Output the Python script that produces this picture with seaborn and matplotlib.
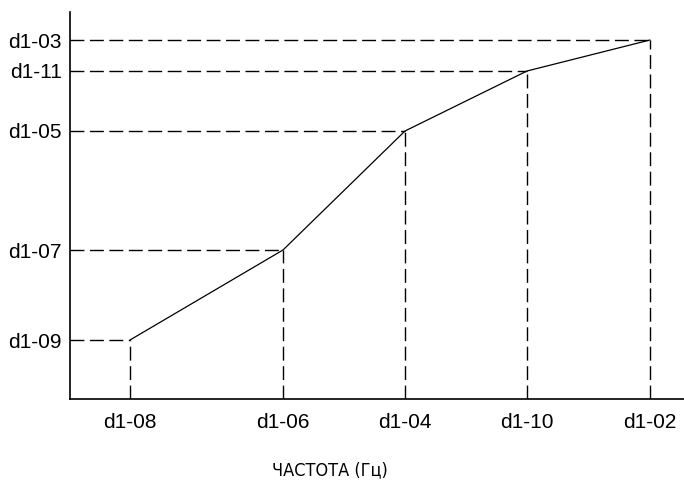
import numpy as np
import pandas as pd
import matplotlib
matplotlib.use("Agg")
import matplotlib.pyplot as plt
import seaborn as sns

# V/f curve break points (arbitrary units)
freq = [0.60, 2.13, 3.35, 4.57, 5.80]
volt = [59, 149, 268, 328, 359]
freq_labels = ["d1-08", "d1-06", "d1-04", "d1-10", "d1-02"]
volt_labels = ["d1-09", "d1-07", "d1-05", "d1-11", "d1-03"]
xlabel = "ЧАСТОТА (Гц)"

sns.set_theme(style="white")
plt.rcParams["font.family"] = ["Liberation Sans", "DejaVu Sans"]

fig = plt.figure(figsize=(6.84, 4.87), dpi=100)
ax = fig.add_axes([70 / 684, 88 / 487, 614 / 684, 387 / 487])

df = pd.DataFrame({"f": freq, "v": volt})
sns.lineplot(data=df, x="f", y="v", ax=ax, color="black", linewidth=0.9,
             sort=False, estimator=None)

dash = (0, (10, 4))
for f, v in zip(freq, volt):
    ax.plot([0, f], [v, v], color="black", linewidth=1.0, linestyle=dash)
    ax.plot([f, f], [0, v], color="black", linewidth=1.0, linestyle=dash)

ax.set_xlim(0, 6.14)
ax.set_ylim(0, 387)
ax.set_xticks(freq)
ax.set_xticklabels(freq_labels)
ax.set_yticks(volt)
ax.set_yticklabels(volt_labels)
ax.tick_params(axis="both", length=0, labelsize=15, colors="black")
ax.tick_params(axis="x", pad=10)
ax.tick_params(axis="y", pad=6)

for side in ["top", "right"]:
    ax.spines[side].set_visible(False)
for side in ["left", "bottom"]:
    ax.spines[side].set_color("black")
    ax.spines[side].set_linewidth(1.2)

ax.set_xlabel("")
ax.set_ylabel("")
fig.text(330 / 684, 1 - 470 / 487, xlabel, ha="center", va="center",
         fontsize=13, fontstretch="condensed", family=["DejaVu Sans"],
         color="black")

fig.savefig("out.png", dpi=100)
